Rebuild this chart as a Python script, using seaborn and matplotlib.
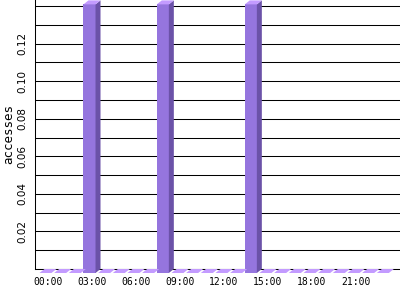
import matplotlib
matplotlib.use("Agg")
import matplotlib.pyplot as plt
import seaborn as sns
import pandas as pd
from matplotlib.patches import Polygon

hours = ["00:00", "01:00", "02:00", "03:00", "04:00", "05:00", "06:00", "07:00",
         "08:00", "09:00", "10:00", "11:00", "12:00", "13:00", "14:00", "15:00",
         "16:00", "17:00", "18:00", "19:00", "20:00", "21:00", "22:00", "23:00"]
accesses = [0, 0, 0, 0.143, 0, 0, 0, 0, 0.143, 0, 0, 0,
            0, 0, 0.143, 0, 0, 0, 0, 0, 0, 0, 0, 0]
xtick_labels = ["00:00", "03:00", "06:00", "09:00", "12:00", "15:00", "18:00", "21:00"]
ytick_values = [0.00, 0.01, 0.02, 0.03, 0.04, 0.05, 0.06, 0.07, 0.08, 0.09,
                0.10, 0.11, 0.12, 0.13, 0.14]
ytick_labels = ["", "", "0.02", "", "0.04", "", "0.06", "", "0.08", "",
                "0.10", "", "0.12", "", ""]

FRONT = "#9575DE"
SIDE = "#6B52A8"
TOP = "#C39BFF"

sns.set_style("white")
plt.rcParams["text.color"] = "black"
plt.rcParams["xtick.color"] = "black"
plt.rcParams["ytick.color"] = "black"
plt.rcParams["axes.labelcolor"] = "black"
df = pd.DataFrame({"hour": hours, "accesses": accesses})

fig = plt.figure(figsize=(4, 3), dpi=100)
ax = fig.add_axes([35 / 400, 1 - 269 / 300, 1 - 35 / 400, 269 / 300])
sns.barplot(data=df, x="hour", y="accesses", ax=ax, color=FRONT,
            saturation=1, width=0.82, linewidth=0)

ax.set_ylim(0, 0.1432)
ax.set_xlim(-0.886, 24.0)

dx = 0.34
dy = 4 / 1880
for p in list(ax.patches):
    x = p.get_x() - 0.17
    w = p.get_width()
    h = p.get_height()
    p.set_x(x)
    p.set_y(-dy)
    p.set_zorder(3)
    p.set_clip_on(False)
    side = Polygon([(x + w, -dy), (x + w + dx, 0), (x + w + dx, h), (x + w, h - dy)],
                   closed=True, facecolor=SIDE, edgecolor="none", zorder=3, clip_on=False)
    top = Polygon([(x, h - dy), (x + w, h - dy), (x + w + dx, h), (x + dx, h)],
                  closed=True, facecolor=TOP, edgecolor="none", zorder=3, clip_on=False)
    if h > 0:
        ax.add_patch(side)
    ax.add_patch(top)

ax.set_yticks(ytick_values)
ax.set_yticklabels(ytick_labels, rotation=90, va="center",
                   family=["Liberation Sans Narrow", "DejaVu Sans"], fontsize=7.5,
                   color="black")
ax.set_xticks([0, 3, 6, 9, 12, 15, 18, 21])
ax.set_xticklabels(xtick_labels, family="DejaVu Sans Mono", fontsize=7, color="black")
ax.tick_params(axis="both", length=0)
ax.tick_params(axis="y", pad=5.5)
ax.tick_params(axis="x", pad=6)

ax.grid(axis="y", color="black", linewidth=0.75)
ax.grid(axis="x", visible=False)
ax.set_axisbelow(True)

for s in ["top", "right"]:
    ax.spines[s].set_visible(False)
for s in ["left", "bottom"]:
    ax.spines[s].set_color("black")
    ax.spines[s].set_linewidth(0.75)

ax.set_xlabel("")
ax.set_ylabel("accesses", family="DejaVu Sans Mono", fontsize=9, color="black")
ax.yaxis.set_label_coords(-0.055, 0.5)

fig.savefig("out.png", dpi=100)
